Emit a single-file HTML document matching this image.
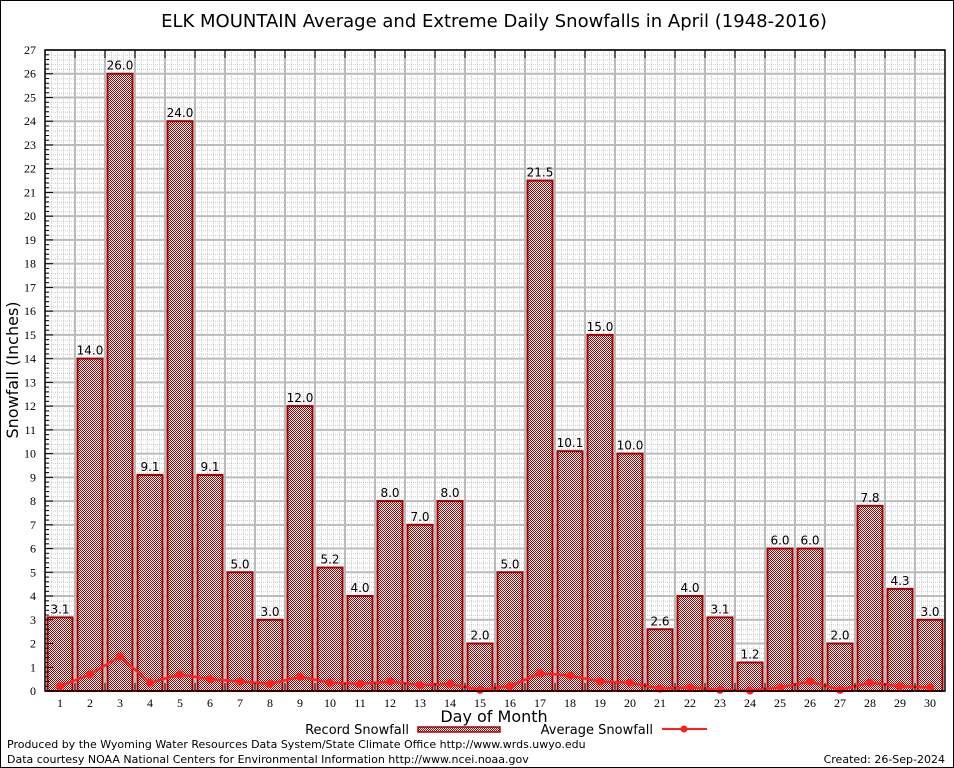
<!DOCTYPE html>
<html><head><meta charset="utf-8"><style>
body{margin:0;background:#fff;}
svg{display:block;font-family:"DejaVu Sans","Liberation Sans",sans-serif;}
</style></head><body>
<svg id="chart" width="954" height="768" viewBox="0 0 954 768">
<defs>
<pattern id="minor" width="6" height="4.748" patternUnits="userSpaceOnUse" x="45" y="50">
<rect width="6" height="4.748" fill="#fff"/>
<rect x="0" y="0" width="1" height="1" fill="#c8c8c8"/>
<rect x="2" y="0" width="1" height="1" fill="#c8c8c8"/>
<rect x="4" y="0" width="1" height="1" fill="#c8c8c8"/>
<rect x="0" y="2" width="1" height="1" fill="#c8c8c8"/>
<rect x="0" y="4" width="1" height="1" fill="#c8c8c8"/>
</pattern>
<pattern id="hatch" width="2" height="2" patternUnits="userSpaceOnUse">
<rect width="2" height="2" fill="#fff"/>
<rect x="0" y="0" width="1" height="1" fill="#a00000"/>
<rect x="1" y="1" width="1" height="1" fill="#a00000"/>
</pattern>
</defs>
<rect x="0.5" y="0.5" width="953" height="767" fill="#fff" stroke="#000"/>
<text x="494" y="27" font-size="18" text-anchor="middle">ELK MOUNTAIN Average and Extreme Daily Snowfalls in April (1948-2016)</text>
<rect x="45" y="50" width="900" height="641" fill="url(#minor)"/>
<g id="grid"></g><g id="bars"></g><g id="line"></g><g id="axes"></g>
<text x="18" y="370" font-size="16" text-anchor="middle" transform="rotate(-90 18 370)">Snowfall (Inches)</text>
<text x="494" y="722" font-size="16" text-anchor="middle">Day of Month</text>
<g>
<text x="409" y="734" font-size="13" text-anchor="end">Record Snowfall</text>
<rect x="418" y="727" width="82" height="5" fill="url(#hatch)" stroke="#a00000" stroke-width="1.5"/>
</g>
<g>
<text x="653" y="734" font-size="13" text-anchor="end">Average Snowfall</text>
<line x1="662" y1="729" x2="707" y2="729" stroke="#ff2020" stroke-width="2"/>
<circle cx="684" cy="729" r="3.5" fill="#ff2020"/>
</g>
<text x="7" y="748" font-size="11">Produced by the Wyoming Water Resources Data System/State Climate Office http://www.wrds.uwyo.edu</text>
<text x="7" y="763" font-size="11">Data courtesy NOAA National Centers for Environmental Information http://www.ncei.noaa.gov</text>
<text x="945" y="763" font-size="11" text-anchor="end">Created: 26-Sep-2024</text>
</svg>
<script>
const days = [1,2,3,4,5,6,7,8,9,10,11,12,13,14,15,16,17,18,19,20,21,22,23,24,25,26,27,28,29,30];
const recordSnow = [3.1,14.0,26.0,9.1,24.0,9.1,5.0,3.0,12.0,5.2,4.0,8.0,7.0,8.0,2.0,5.0,21.5,10.1,15.0,10.0,2.6,4.0,3.1,1.2,6.0,6.0,2.0,7.8,4.3,3.0];
const avgSnow = [0.2,0.7,1.45,0.35,0.7,0.5,0.4,0.3,0.6,0.35,0.3,0.4,0.25,0.3,0.05,0.2,0.75,0.65,0.4,0.35,0.1,0.15,0.05,0.02,0.15,0.4,0.05,0.35,0.2,0.15];
const yTicks = [0,1,2,3,4,5,6,7,8,9,10,11,12,13,14,15,16,17,18,19,20,21,22,23,24,25,26,27];
const NS='http://www.w3.org/2000/svg';
const L=45,R=945,T=50,B=691,YMAX=27;
const x = d => L + (d-0.5)*(R-L)/30;
const y = v => B - v*(B-T)/YMAX;
function mk(tag,attrs,parent){const e=document.createElementNS(NS,tag);for(const k in attrs)e.setAttribute(k,attrs[k]);parent.appendChild(e);return e;}
const grid=document.getElementById('grid'),bars=document.getElementById('bars'),line=document.getElementById('line'),axes=document.getElementById('axes');
yTicks.forEach(t=>{
  const g=mk('line',{x1:L,x2:R,y1:y(t),y2:y(t),stroke:'#bbb','stroke-width':2},grid);
  
  
  const lb=mk('text',{x:36,y:y(t)+4,'font-size':12,'text-anchor':'end','font-family':'Liberation Serif, serif'},axes);
  lb.textContent=t;
  
  
  mk('line',{x1:L,x2:L+8,y1:y(t),y2:y(t),stroke:'#000','stroke-width':1},axes);
  if(t<YMAX){for(let m=1;m<5;m++){mk('line',{x1:L,x2:L+4,y1:y(t+m*0.2),y2:y(t+m*0.2),stroke:'#000','stroke-width':1},axes);}}
});
for(let i=1;i<30;i++){
  const xv=L+i*(R-L)/30;
  const g=mk('line',{x1:xv,x2:xv,y1:T,y2:B,stroke:'#bbb','stroke-width':2},grid);
  
  
  mk('line',{x1:xv,x2:xv,y1:B,y2:B-8,stroke:'#000'},axes);
  mk('line',{x1:xv,x2:xv,y1:T,y2:T+8,stroke:'#000'},axes);
}
days.forEach((d,i)=>{
  const v=recordSnow[i];
  const r=mk('rect',{x:x(d)-12.5,y:y(v),width:25,height:B-y(v),fill:'url(#hatch)',stroke:'#a00000','stroke-width':2},bars);
  
  
  const lb=mk('text',{x:x(d),y:y(v)-4,'font-size':12,'text-anchor':'middle'},bars);
  lb.textContent=v.toFixed(1);
  
  
  const xl=mk('text',{x:x(d),y:707,'font-size':12,'text-anchor':'middle','font-family':'Liberation Serif, serif'},axes);
  xl.textContent=d;
  
  
});
const pts=days.map((d,i)=>x(d)+','+y(avgSnow[i])).join(' ');
const pl=mk('polyline',{points:pts,fill:'none',stroke:'#ff2020','stroke-width':2.5},line);


days.forEach((d,i)=>{
  const c=mk('circle',{cx:x(d),cy:y(avgSnow[i]),r:4,fill:'#ff2020'},line);
  
  
});
const ax=mk('rect',{x:L,y:T,width:R-L,height:B-T,fill:'none',stroke:'#000','stroke-width':1.5},axes);


</script>
</body></html>
